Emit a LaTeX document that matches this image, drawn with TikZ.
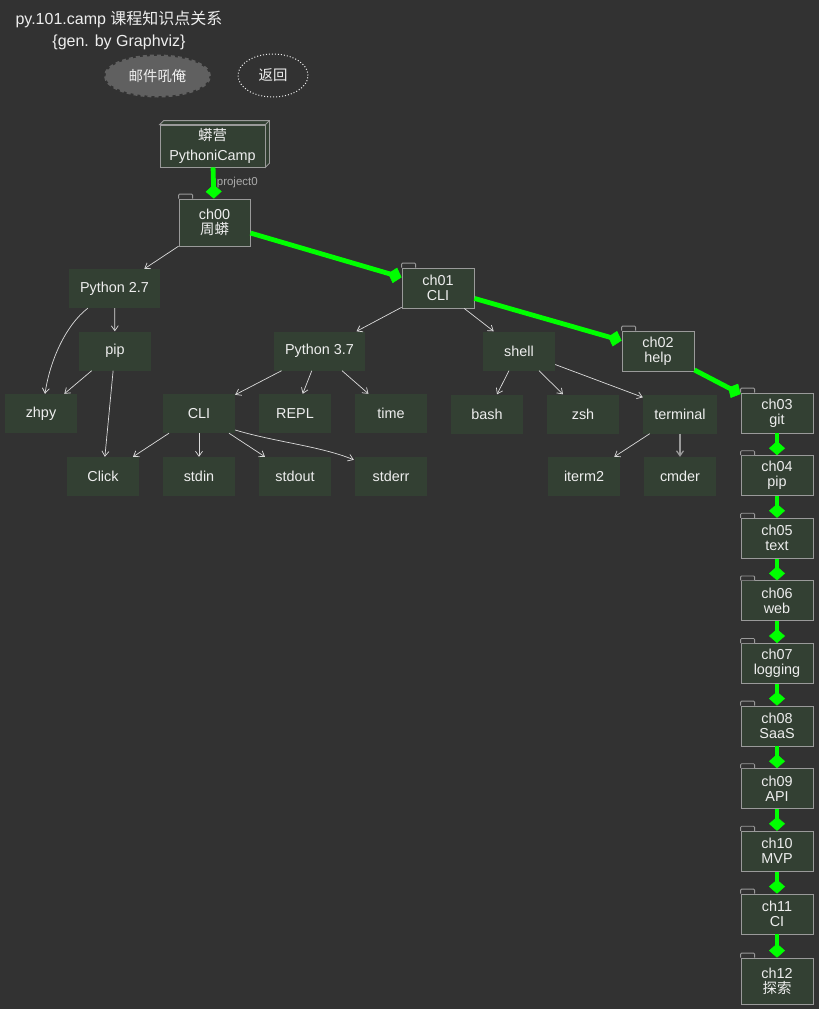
\documentclass[tikz,border=0pt]{standalone}
\usepackage{fontspec}
\setmainfont{Liberation Sans}
\newfontfamily\cjk{Noto Sans CJK SC}
\usetikzlibrary{arrows.meta,shapes.geometric,calc}
\definecolor{bg}{HTML}{323232}
\definecolor{nfill}{HTML}{334033}
\definecolor{bord}{HTML}{9A9A9A}
\definecolor{txt}{HTML}{EEEEEE}
\definecolor{grn}{HTML}{00FF00}
\definecolor{mailfill}{HTML}{606060}
\definecolor{lbl}{HTML}{AAAAAA}
\begin{document}
\begin{tikzpicture}[x=1pt,y=-1pt,
  every node/.style={text=txt, font=\fontsize{14.4}{15}\selectfont},
  box/.style={fill=nfill, minimum width=72pt, minimum height=39pt, inner sep=0pt, align=center},
  folder/.style={box, draw=bord, line width=0.8pt, minimum height=40pt},
  tabst/.style={draw=bord, fill=bg, line width=0.8pt, rounded corners=1pt},
  boxside/.style={draw=bord, fill=nfill, line width=0.8pt},
  edge/.style={draw=txt!92!black, line width=0.7pt, -{Straight Barb[length=5pt,width=7pt]}},
  gedge/.style={draw=grn, line width=4.8pt, -{Diamond[length=14pt,width=16pt,line width=0.5pt,fill=grn]}}
]
\useasboundingbox[fill=bg] (0,0) rectangle (819,1009);

% title and header ellipses
\node[font=\fontsize{16}{22}\selectfont, align=center] (title) at (119,30)
  {py.101.camp {\cjk 课程知识点关系}\\\{gen. by Graphviz\}};
\node[ellipse, fill=mailfill, draw=mailfill, line width=3pt, dash pattern=on 4pt off 3pt,
  minimum width=104pt, minimum height=40pt, inner sep=0pt] (mail) at (157.5,76) {\cjk 邮件吼俺};
\node[ellipse, draw=txt, line width=1pt, dotted, minimum width=70pt, minimum height=43pt,
  inner sep=0pt] (back) at (273,75.5) {\cjk 返回};

% box3d
\node[box, draw=bord, line width=0.8pt, minimum width=105pt, minimum height=42pt,
  font=\fontsize{14.4}{20}\selectfont] (camp) at (212.5,146) {{\cjk 蟒营}\\PythoniCamp};
\filldraw[boxside] (camp.north west) -- ++(4,-4) -- ($(camp.north east)+(4,-4)$)
  -- ($(camp.south east)+(4,-4)$) -- (camp.south east) -- (camp.north east) -- cycle;
\draw[draw=bord, line width=0.8pt] (camp.north east) -- ++(4,-4);

% chapter folders
\node[folder, minimum width=71pt, minimum height=47pt] (c00) at (214.5,222.5) {ch00\\{\cjk 周蟒}};
\node[folder] (c01) at (438,288) {ch01\\CLI};
\node[folder] (c02) at (658,351) {ch02\\help};
\node[folder] (c03) at (777,413) {ch03\\git};
\node[folder] (c04) at (777,475.6) {ch04\\pip};
\node[folder] (c05) at (777,538.2) {ch05\\text};
\node[folder] (c06) at (777,600.8) {ch06\\web};
\node[folder] (c07) at (777,663.4) {ch07\\logging};
\node[folder] (c08) at (777,726) {ch08\\SaaS};
\node[folder] (c09) at (777,788.6) {ch09\\API};
\node[folder] (c10) at (777,851.2) {ch10\\MVP};
\node[folder] (c11) at (777,914) {ch11\\CI};
\node[folder, minimum height=46pt] (c12) at (777,981) {ch12\\{\cjk 探索}};
\foreach \n in {c00,c01,c02,c03,c04,c05,c06,c07,c08,c09,c10,c11,c12}
  \draw[tabst] (\n.north west) -- ++(0,-4.5) -- ++(14,0) -- ++(0,4.5);

% topic boxes
\node[box, minimum width=91pt] (py27) at (114.5,288.5) {Python 2.7};
\node[box] (pip) at (115,351) {pip};
\node[box] (zhpy) at (41,413.5) {zhpy};
\node[box] (cli) at (199,413.5) {CLI};
\node[box] (repl) at (295,413.5) {REPL};
\node[box] (time) at (391,413.5) {time};
\node[box] (click) at (103,476.5) {Click};
\node[box] (stdin) at (199,476.5) {stdin};
\node[box] (stdout) at (295,476.5) {stdout};
\node[box] (stderr) at (391,476.5) {stderr};
\node[box, minimum width=91pt] (py37) at (319.5,351) {Python 3.7};
\node[box] (shell) at (519,351) {shell};
\node[box] (bash) at (487,414) {bash};
\node[box] (zsh) at (583,414) {zsh};
\node[box, minimum width=74pt] (term) at (680,414) {terminal};
\node[box] (iterm) at (584,476.5) {iterm2};
\node[box] (cmder) at (680,476.5) {cmder};

% green chapter chain
\draw[gedge] (camp) -- node[anchor=west, inner sep=0pt, xshift=1pt, text=lbl,
  font=\fontsize{11.5}{12}\selectfont] {project0} (c00);
\draw[gedge] (c00) -- (c01);
\draw[gedge] (c01) -- (c02);
\draw[gedge] (c02) -- (c03);
\draw[gedge] (c03) -- (c04);
\draw[gedge] (c04) -- (c05);
\draw[gedge] (c05) -- (c06);
\draw[gedge] (c06) -- (c07);
\draw[gedge] (c07) -- (c08);
\draw[gedge] (c08) -- (c09);
\draw[gedge] (c09) -- (c10);
\draw[gedge] (c10) -- (c11);
\draw[gedge] (c11) -- (c12);

% thin edges
\draw[edge] (c00) -- (py27);
\draw[edge] ($(py27.south west)+(19,0)$) .. controls (66,325) and (50,360) .. ($(zhpy.north)+(4,0)$);
\draw[edge] (py27) -- (pip);
\draw[edge] (pip) -- (zhpy);
\draw[edge] (pip) -- (click);
\draw[edge] (c01) -- (py37);
\draw[edge] (c01) -- (shell);
\draw[edge] (py37) -- (cli);
\draw[edge] (py37) -- (repl);
\draw[edge] (py37) -- (time);
\draw[edge] (cli) -- (click);
\draw[edge] (cli) -- (stdin);
\draw[edge] (cli) -- (stdout);
\draw[edge] ($(cli.east)+(0,16.5)$) .. controls (275,442) and (320,446) .. ($(stderr.north west)+(-1,3)$);
\draw[edge] (shell) -- (bash);
\draw[edge] (shell) -- (zsh);
\draw[edge] (shell) -- ($(term.north west)+(0,3)$);
\draw[edge] (term) -- (iterm);
\draw[edge, draw=bord, line width=1.2pt] (term) -- (cmder);
\end{tikzpicture}
\end{document}
